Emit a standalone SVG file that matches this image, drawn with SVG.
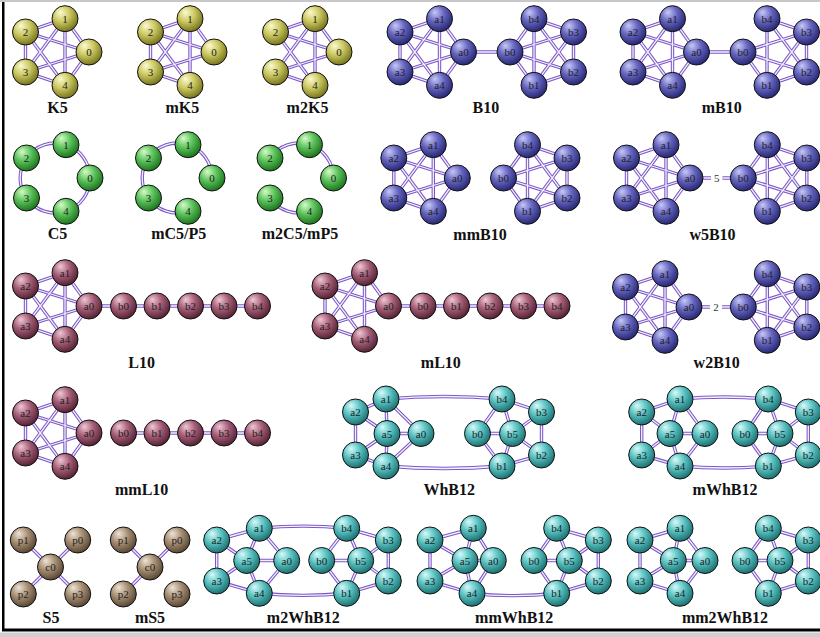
<svg xmlns="http://www.w3.org/2000/svg" xmlns:xlink="http://www.w3.org/1999/xlink" width="820" height="637" viewBox="0 0 820 637">
<defs>
<style>
.n circle{stroke:#111;stroke-width:1}
.n text{font-family:"Liberation Serif","Times New Roman",serif;font-size:11px;text-anchor:middle;fill:#222}
.y circle{fill:url(#gy)} .g circle{fill:url(#gg)} .b circle{fill:url(#gb)} .m circle{fill:url(#gm)} .c circle{fill:url(#gc)} .t circle{fill:url(#gt)}
.eo{fill:none;stroke:#7c58c6;stroke-width:3.4}
.ei{fill:none;stroke:#f4f0ff;stroke-width:1.3}
.lab{font-family:"Liberation Serif","Times New Roman",serif;font-weight:bold;font-size:16px;text-anchor:middle;fill:#111}
.el{font-family:"Liberation Serif","Times New Roman",serif;font-size:11px;text-anchor:middle;fill:#333}
</style>
<radialGradient id="gy" cx="0.4" cy="0.35" r="0.65" fx="0.32" fy="0.25"><stop offset="0" stop-color="#fbfbd0"/><stop offset="0.5" stop-color="#cbc862"/><stop offset="1" stop-color="#79761f"/></radialGradient>
<radialGradient id="gg" cx="0.4" cy="0.35" r="0.65" fx="0.32" fy="0.25"><stop offset="0" stop-color="#d6fbc8"/><stop offset="0.5" stop-color="#5cc25c"/><stop offset="1" stop-color="#1d761d"/></radialGradient>
<radialGradient id="gb" cx="0.4" cy="0.35" r="0.65" fx="0.32" fy="0.25"><stop offset="0" stop-color="#c8c8f8"/><stop offset="0.5" stop-color="#6565c0"/><stop offset="1" stop-color="#282874"/></radialGradient>
<radialGradient id="gm" cx="0.4" cy="0.35" r="0.65" fx="0.32" fy="0.25"><stop offset="0" stop-color="#f0c8d6"/><stop offset="0.5" stop-color="#a55f78"/><stop offset="1" stop-color="#572335"/></radialGradient>
<radialGradient id="gc" cx="0.4" cy="0.35" r="0.65" fx="0.32" fy="0.25"><stop offset="0" stop-color="#d8fafa"/><stop offset="0.5" stop-color="#5ac2c2"/><stop offset="1" stop-color="#1d7272"/></radialGradient>
<radialGradient id="gt" cx="0.4" cy="0.35" r="0.65" fx="0.32" fy="0.25"><stop offset="0" stop-color="#efe4d6"/><stop offset="0.5" stop-color="#a78f75"/><stop offset="1" stop-color="#5b4834"/></radialGradient>

<path id="E-K5" d="M89 52L65 18.7M89 52L25.5 32M89 52L25.5 72M89 52L65 85.3M65 18.7L25.5 32M65 18.7L25.5 72M65 18.7L65 85.3M25.5 32L25.5 72M25.5 32L65 85.3M25.5 72L65 85.3"/>
<path id="E-mK5" d="M214 52L190 18.7M214 52L150.5 32M214 52L150.5 72M190 18.7L150.5 32M190 18.7L150.5 72M190 18.7L190 85.3M150.5 32L150.5 72M150.5 32L190 85.3M150.5 72L190 85.3"/>
<path id="E-m2K5" d="M339 52L315 18.7M339 52L275.5 32M339 52L275.5 72M315 18.7L275.5 32M315 18.7L275.5 72M315 18.7L315 85.3M275.5 32L315 85.3M275.5 72L315 85.3"/>
<path id="E-B10" d="M463.5 52L439.5 18.7M463.5 52L400 32M463.5 52L400 72M463.5 52L439.5 85.3M439.5 18.7L400 32M439.5 18.7L400 72M439.5 18.7L439.5 85.3M400 32L400 72M400 32L439.5 85.3M400 72L439.5 85.3M510 52L534 18.7M510 52L573.5 32M510 52L573.5 72M510 52L534 85.3M534 18.7L573.5 32M534 18.7L573.5 72M534 18.7L534 85.3M573.5 32L573.5 72M573.5 32L534 85.3M573.5 72L534 85.3M463.5 52L510 52"/>
<path id="E-mB10" d="M696.5 52L672.5 18.7M696.5 52L633 32M696.5 52L633 72M696.5 52L672.5 85.3M672.5 18.7L633 32M672.5 18.7L633 72M672.5 18.7L672.5 85.3M633 32L633 72M633 32L672.5 85.3M633 72L672.5 85.3M743 52L806.5 32M743 52L806.5 72M743 52L767 85.3M767 18.7L806.5 32M767 18.7L806.5 72M767 18.7L767 85.3M806.5 32L806.5 72M806.5 32L767 85.3M806.5 72L767 85.3M696.5 52L743 52"/>
<path id="E-C5" d="M66 144.7A34.9 34.9 0 0 1 90 178A34.9 34.9 0 0 1 66 211.3A34.9 34.9 0 0 1 26.5 198A34.9 34.9 0 0 1 26.5 158A34.9 34.9 0 0 1 66 144.7"/>
<path id="E-mC5" d="M188 211.3A34.9 34.9 0 0 1 148.5 198A34.9 34.9 0 0 1 148.5 158A34.9 34.9 0 0 1 188 144.7A34.9 34.9 0 0 1 212 178"/>
<path id="E-m2C5" d="M270 158A34.9 34.9 0 0 1 309.5 144.7A34.9 34.9 0 0 1 333.5 178M309.5 211.3A34.9 34.9 0 0 1 270 198"/>
<path id="E-mmB10" d="M457.3 178L433.3 144.7M457.3 178L393.8 158M457.3 178L393.8 198M457.3 178L433.3 211.3M433.3 144.7L393.8 158M433.3 144.7L393.8 198M433.3 144.7L433.3 211.3M393.8 158L393.8 198M393.8 158L433.3 211.3M393.8 198L433.3 211.3M503.5 178L527.5 144.7M503.5 178L567 158M503.5 178L567 198M503.5 178L527.5 211.3M527.5 144.7L567 158M527.5 144.7L567 198M527.5 144.7L527.5 211.3M567 158L567 198M567 158L527.5 211.3M567 198L527.5 211.3"/>
<path id="E-w5B10" d="M690 178L666 144.7M690 178L626.5 158M690 178L626.5 198M690 178L666 211.3M666 144.7L626.5 158M666 144.7L626.5 198M666 144.7L666 211.3M626.5 158L626.5 198M626.5 158L666 211.3M626.5 198L666 211.3M743.3 178L767.3 144.7M743.3 178L806.8 158M743.3 178L806.8 198M743.3 178L767.3 211.3M767.3 144.7L806.8 158M767.3 144.7L806.8 198M767.3 144.7L767.3 211.3M806.8 158L806.8 198M806.8 158L767.3 211.3M806.8 198L767.3 211.3M690 178H711M722.5 178H743.3"/>
<path id="E-L10" d="M89 306L65 272.7M89 306L25.5 286M89 306L25.5 326M89 306L65 339.3M65 272.7L25.5 286M65 272.7L25.5 326M65 272.7L65 339.3M25.5 286L25.5 326M25.5 286L65 339.3M25.5 326L65 339.3M89 306H257.5"/>
<path id="E-mL10" d="M388.5 306L364.5 272.7M388.5 306L325 286M388.5 306L325 326M364.5 272.7L325 286M364.5 272.7L325 326M364.5 272.7L364.5 339.3M325 286L325 326M325 286L364.5 339.3M325 326L364.5 339.3M388.5 306H557"/>
<path id="E-w2B10" d="M689 307L665 273.7M689 307L625.5 287M689 307L625.5 327M689 307L665 340.3M665 273.7L625.5 287M665 273.7L625.5 327M665 273.7L665 340.3M625.5 287L625.5 327M625.5 287L665 340.3M625.5 327L665 340.3M743.3 307L767.3 273.7M743.3 307L806.8 287M743.3 307L806.8 327M743.3 307L767.3 340.3M767.3 273.7L806.8 287M767.3 273.7L806.8 327M767.3 273.7L767.3 340.3M806.8 287L806.8 327M806.8 287L767.3 340.3M806.8 327L767.3 340.3M689 307H710M722 307H743.3"/>
<path id="E-mmL10" d="M89 433L65 399.7M89 433L25.5 413M89 433L25.5 453M89 433L65 466.3M65 399.7L25.5 413M65 399.7L25.5 453M65 399.7L65 466.3M25.5 413L25.5 453M25.5 413L65 466.3M25.5 453L65 466.3M123.5 433H257.5"/>
<path id="E-WhB12" d="M387 433.5L421 433.5M387 433.5L386 399M387 433.5L355.5 412M387 433.5L355.5 455M387 433.5L386 466M421 433.5L386 399L355.5 412L355.5 455L386 466Z M512.5 433.5L477.5 433.5M512.5 433.5L502 399M512.5 433.5L541.5 412M512.5 433.5L541.5 455M512.5 433.5L502 466M477.5 433.5L502 399L541.5 412L541.5 455L502 466Z M386 399Q444 394 502 399M386 466Q444 471 502 466"/>
<path id="E-mWhB12" d="M670 433.5L705 433.5M670 433.5L680 399M670 433.5L641.7 412M670 433.5L641.7 455M670 433.5L680 466M705 433.5L680 399L641.7 412L641.7 455L680 466Z M780 433.5L745 433.5M780 433.5L768.3 399M780 433.5L808.3 412M780 433.5L808.3 455M780 433.5L768.3 466M745 433.5L768.3 399L808.3 412L808.3 455L768.3 466Z M680 399Q724 395 768.3 399M680 466Q724 470 768.3 466"/>
<path id="E-S5" d="M50.5 567L23.3 540M50.5 567L77.7 540M50.5 567L23.3 594M50.5 567L77.7 594"/>
<path id="E-mS5" d="M150 567L123.3 540M150 567L177 540M150 567L123.3 594"/>
<path id="E-m2WhB12" d="M246.7 560.5L286.7 560.5M246.7 560.5L259.3 528.3M246.7 560.5L216.7 540M246.7 560.5L216.7 581M246.7 560.5L259.3 593.3M286.7 560.5L259.3 528.3L216.7 540L216.7 581L259.3 593.3Z M360.7 560.5L321.7 560.5M360.7 560.5L346.7 528.3M360.7 560.5L388.3 540M360.7 560.5L388.3 581M360.7 560.5L346.7 593.3M321.7 560.5L346.7 528.3L388.3 540L388.3 581L346.7 593.3Z M259.3 528.3Q303 524 346.7 528.3M259.3 593.3Q303 597.5 346.7 593.3"/>
<path id="E-mmWhB12" d="M465 560.5L493.3 560.5M465 560.5L473.3 528.3M465 560.5L430 540M465 560.5L430 581M465 560.5L472 593.3M493.3 560.5L473.3 528.3L430 540L430 581L472 593.3Z M569.3 560.5L534 560.5M569.3 560.5L556.7 528.3M569.3 560.5L598.3 540M569.3 560.5L598.3 581M569.3 560.5L556.7 593.3M534 560.5L556.7 528.3L598.3 540L598.3 581L556.7 593.3Z M472 593.3Q514 598 556.7 593.3"/>
<path id="E-mm2WhB12" d="M673.3 560.5L705 560.5M673.3 560.5L680 528.3M673.3 560.5L640 540M673.3 560.5L640 581M673.3 560.5L680 593.3M705 560.5L680 528.3L640 540L640 581L680 593.3Z M780 560.5L745 560.5M780 560.5L768.3 528.3M780 560.5L808.3 540M780 560.5L808.3 581M780 560.5L768.3 593.3M745 560.5L768.3 528.3L808.3 540L808.3 581L768.3 593.3Z"/>
</defs>

<rect width="820" height="637" fill="#ffffff"/>
<g id="frame">
<rect x="0" y="0" width="820" height="2" fill="#c8c8c8"/>
<rect x="2" y="2" width="2.5" height="629" fill="#000"/>
<rect x="2" y="628.5" width="818" height="3" fill="#000"/>
<rect x="0" y="632.5" width="820" height="4.5" fill="#cfcfcf"/>
</g>

<g id="connectors">
<use xlink:href="#E-K5" class="eo"/><use xlink:href="#E-K5" class="ei"/>
<use xlink:href="#E-mK5" class="eo"/><use xlink:href="#E-mK5" class="ei"/>
<use xlink:href="#E-m2K5" class="eo"/><use xlink:href="#E-m2K5" class="ei"/>
<use xlink:href="#E-B10" class="eo"/><use xlink:href="#E-B10" class="ei"/>
<use xlink:href="#E-mB10" class="eo"/><use xlink:href="#E-mB10" class="ei"/>
<use xlink:href="#E-C5" class="eo"/><use xlink:href="#E-C5" class="ei"/>
<use xlink:href="#E-mC5" class="eo"/><use xlink:href="#E-mC5" class="ei"/>
<use xlink:href="#E-m2C5" class="eo"/><use xlink:href="#E-m2C5" class="ei"/>
<use xlink:href="#E-mmB10" class="eo"/><use xlink:href="#E-mmB10" class="ei"/>
<use xlink:href="#E-w5B10" class="eo"/><use xlink:href="#E-w5B10" class="ei"/>
<use xlink:href="#E-L10" class="eo"/><use xlink:href="#E-L10" class="ei"/>
<use xlink:href="#E-mL10" class="eo"/><use xlink:href="#E-mL10" class="ei"/>
<use xlink:href="#E-w2B10" class="eo"/><use xlink:href="#E-w2B10" class="ei"/>
<use xlink:href="#E-mmL10" class="eo"/><use xlink:href="#E-mmL10" class="ei"/>
<use xlink:href="#E-WhB12" class="eo"/><use xlink:href="#E-WhB12" class="ei"/>
<use xlink:href="#E-mWhB12" class="eo"/><use xlink:href="#E-mWhB12" class="ei"/>
<use xlink:href="#E-S5" class="eo"/><use xlink:href="#E-S5" class="ei"/>
<use xlink:href="#E-mS5" class="eo"/><use xlink:href="#E-mS5" class="ei"/>
<use xlink:href="#E-m2WhB12" class="eo"/><use xlink:href="#E-m2WhB12" class="ei"/>
<use xlink:href="#E-mmWhB12" class="eo"/><use xlink:href="#E-mmWhB12" class="ei"/>
<use xlink:href="#E-mm2WhB12" class="eo"/><use xlink:href="#E-mm2WhB12" class="ei"/>
<text class="el" x="716.7" y="182">5</text>
<text class="el" x="716" y="311">2</text>
</g>

<!-- K5 -->
<g id="K5-0" class="n y"><circle cx="89" cy="52" r="13"/><text x="89" y="56">0</text></g>
<g id="K5-1" class="n y"><circle cx="65" cy="18.7" r="13"/><text x="65" y="22.7">1</text></g>
<g id="K5-2" class="n y"><circle cx="25.5" cy="32" r="13"/><text x="25.5" y="36">2</text></g>
<g id="K5-3" class="n y"><circle cx="25.5" cy="72" r="13"/><text x="25.5" y="76">3</text></g>
<g id="K5-4" class="n y"><circle cx="65" cy="85.3" r="13"/><text x="65" y="89.3">4</text></g>
<!-- mK5 -->
<g id="mK5-0" class="n y"><circle cx="214" cy="52" r="13"/><text x="214" y="56">0</text></g>
<g id="mK5-1" class="n y"><circle cx="190" cy="18.7" r="13"/><text x="190" y="22.7">1</text></g>
<g id="mK5-2" class="n y"><circle cx="150.5" cy="32" r="13"/><text x="150.5" y="36">2</text></g>
<g id="mK5-3" class="n y"><circle cx="150.5" cy="72" r="13"/><text x="150.5" y="76">3</text></g>
<g id="mK5-4" class="n y"><circle cx="190" cy="85.3" r="13"/><text x="190" y="89.3">4</text></g>
<!-- m2K5 -->
<g id="m2K5-0" class="n y"><circle cx="339" cy="52" r="13"/><text x="339" y="56">0</text></g>
<g id="m2K5-1" class="n y"><circle cx="315" cy="18.7" r="13"/><text x="315" y="22.7">1</text></g>
<g id="m2K5-2" class="n y"><circle cx="275.5" cy="32" r="13"/><text x="275.5" y="36">2</text></g>
<g id="m2K5-3" class="n y"><circle cx="275.5" cy="72" r="13"/><text x="275.5" y="76">3</text></g>
<g id="m2K5-4" class="n y"><circle cx="315" cy="85.3" r="13"/><text x="315" y="89.3">4</text></g>
<!-- B10 -->
<g id="B10-a0" class="n b"><circle cx="463.5" cy="52" r="13"/><text x="463.5" y="56">a0</text></g>
<g id="B10-a1" class="n b"><circle cx="439.5" cy="18.7" r="13"/><text x="439.5" y="22.7">a1</text></g>
<g id="B10-a2" class="n b"><circle cx="400" cy="32" r="13"/><text x="400" y="36">a2</text></g>
<g id="B10-a3" class="n b"><circle cx="400" cy="72" r="13"/><text x="400" y="76">a3</text></g>
<g id="B10-a4" class="n b"><circle cx="439.5" cy="85.3" r="13"/><text x="439.5" y="89.3">a4</text></g>
<g id="B10-b0" class="n b"><circle cx="510" cy="52" r="13"/><text x="510" y="56">b0</text></g>
<g id="B10-b4" class="n b"><circle cx="534" cy="18.7" r="13"/><text x="534" y="22.7">b4</text></g>
<g id="B10-b3" class="n b"><circle cx="573.5" cy="32" r="13"/><text x="573.5" y="36">b3</text></g>
<g id="B10-b2" class="n b"><circle cx="573.5" cy="72" r="13"/><text x="573.5" y="76">b2</text></g>
<g id="B10-b1" class="n b"><circle cx="534" cy="85.3" r="13"/><text x="534" y="89.3">b1</text></g>
<!-- mB10 -->
<g id="mB10-a0" class="n b"><circle cx="696.5" cy="52" r="13"/><text x="696.5" y="56">a0</text></g>
<g id="mB10-a1" class="n b"><circle cx="672.5" cy="18.7" r="13"/><text x="672.5" y="22.7">a1</text></g>
<g id="mB10-a2" class="n b"><circle cx="633" cy="32" r="13"/><text x="633" y="36">a2</text></g>
<g id="mB10-a3" class="n b"><circle cx="633" cy="72" r="13"/><text x="633" y="76">a3</text></g>
<g id="mB10-a4" class="n b"><circle cx="672.5" cy="85.3" r="13"/><text x="672.5" y="89.3">a4</text></g>
<g id="mB10-b0" class="n b"><circle cx="743" cy="52" r="13"/><text x="743" y="56">b0</text></g>
<g id="mB10-b4" class="n b"><circle cx="767" cy="18.7" r="13"/><text x="767" y="22.7">b4</text></g>
<g id="mB10-b3" class="n b"><circle cx="806.5" cy="32" r="13"/><text x="806.5" y="36">b3</text></g>
<g id="mB10-b2" class="n b"><circle cx="806.5" cy="72" r="13"/><text x="806.5" y="76">b2</text></g>
<g id="mB10-b1" class="n b"><circle cx="767" cy="85.3" r="13"/><text x="767" y="89.3">b1</text></g>
<!-- C5 -->
<g id="C5-0" class="n g"><circle cx="90" cy="178" r="13"/><text x="90" y="182">0</text></g>
<g id="C5-1" class="n g"><circle cx="66" cy="144.7" r="13"/><text x="66" y="148.7">1</text></g>
<g id="C5-2" class="n g"><circle cx="26.5" cy="158" r="13"/><text x="26.5" y="162">2</text></g>
<g id="C5-3" class="n g"><circle cx="26.5" cy="198" r="13"/><text x="26.5" y="202">3</text></g>
<g id="C5-4" class="n g"><circle cx="66" cy="211.3" r="13"/><text x="66" y="215.3">4</text></g>
<!-- mC5/P5 -->
<g id="mC5-0" class="n g"><circle cx="212" cy="178" r="13"/><text x="212" y="182">0</text></g>
<g id="mC5-1" class="n g"><circle cx="188" cy="144.7" r="13"/><text x="188" y="148.7">1</text></g>
<g id="mC5-2" class="n g"><circle cx="148.5" cy="158" r="13"/><text x="148.5" y="162">2</text></g>
<g id="mC5-3" class="n g"><circle cx="148.5" cy="198" r="13"/><text x="148.5" y="202">3</text></g>
<g id="mC5-4" class="n g"><circle cx="188" cy="211.3" r="13"/><text x="188" y="215.3">4</text></g>
<!-- m2C5/mP5 -->
<g id="m2C5-0" class="n g"><circle cx="333.5" cy="178" r="13"/><text x="333.5" y="182">0</text></g>
<g id="m2C5-1" class="n g"><circle cx="309.5" cy="144.7" r="13"/><text x="309.5" y="148.7">1</text></g>
<g id="m2C5-2" class="n g"><circle cx="270" cy="158" r="13"/><text x="270" y="162">2</text></g>
<g id="m2C5-3" class="n g"><circle cx="270" cy="198" r="13"/><text x="270" y="202">3</text></g>
<g id="m2C5-4" class="n g"><circle cx="309.5" cy="211.3" r="13"/><text x="309.5" y="215.3">4</text></g>
<!-- mmB10 -->
<g id="mmB10-a0" class="n b"><circle cx="457.3" cy="178" r="13"/><text x="457.3" y="182">a0</text></g>
<g id="mmB10-a1" class="n b"><circle cx="433.3" cy="144.7" r="13"/><text x="433.3" y="148.7">a1</text></g>
<g id="mmB10-a2" class="n b"><circle cx="393.8" cy="158" r="13"/><text x="393.8" y="162">a2</text></g>
<g id="mmB10-a3" class="n b"><circle cx="393.8" cy="198" r="13"/><text x="393.8" y="202">a3</text></g>
<g id="mmB10-a4" class="n b"><circle cx="433.3" cy="211.3" r="13"/><text x="433.3" y="215.3">a4</text></g>
<g id="mmB10-b0" class="n b"><circle cx="503.5" cy="178" r="13"/><text x="503.5" y="182">b0</text></g>
<g id="mmB10-b4" class="n b"><circle cx="527.5" cy="144.7" r="13"/><text x="527.5" y="148.7">b4</text></g>
<g id="mmB10-b3" class="n b"><circle cx="567" cy="158" r="13"/><text x="567" y="162">b3</text></g>
<g id="mmB10-b2" class="n b"><circle cx="567" cy="198" r="13"/><text x="567" y="202">b2</text></g>
<g id="mmB10-b1" class="n b"><circle cx="527.5" cy="211.3" r="13"/><text x="527.5" y="215.3">b1</text></g>
<!-- w5B10 -->
<g id="w5B10-a0" class="n b"><circle cx="690" cy="178" r="13"/><text x="690" y="182">a0</text></g>
<g id="w5B10-a1" class="n b"><circle cx="666" cy="144.7" r="13"/><text x="666" y="148.7">a1</text></g>
<g id="w5B10-a2" class="n b"><circle cx="626.5" cy="158" r="13"/><text x="626.5" y="162">a2</text></g>
<g id="w5B10-a3" class="n b"><circle cx="626.5" cy="198" r="13"/><text x="626.5" y="202">a3</text></g>
<g id="w5B10-a4" class="n b"><circle cx="666" cy="211.3" r="13"/><text x="666" y="215.3">a4</text></g>
<g id="w5B10-b0" class="n b"><circle cx="743.3" cy="178" r="13"/><text x="743.3" y="182">b0</text></g>
<g id="w5B10-b4" class="n b"><circle cx="767.3" cy="144.7" r="13"/><text x="767.3" y="148.7">b4</text></g>
<g id="w5B10-b3" class="n b"><circle cx="806.8" cy="158" r="13"/><text x="806.8" y="162">b3</text></g>
<g id="w5B10-b2" class="n b"><circle cx="806.8" cy="198" r="13"/><text x="806.8" y="202">b2</text></g>
<g id="w5B10-b1" class="n b"><circle cx="767.3" cy="211.3" r="13"/><text x="767.3" y="215.3">b1</text></g>
<!-- L10 -->
<g id="L10-a0" class="n m"><circle cx="89" cy="306" r="13"/><text x="89" y="310">a0</text></g>
<g id="L10-a1" class="n m"><circle cx="65" cy="272.7" r="13"/><text x="65" y="276.7">a1</text></g>
<g id="L10-a2" class="n m"><circle cx="25.5" cy="286" r="13"/><text x="25.5" y="290">a2</text></g>
<g id="L10-a3" class="n m"><circle cx="25.5" cy="326" r="13"/><text x="25.5" y="330">a3</text></g>
<g id="L10-a4" class="n m"><circle cx="65" cy="339.3" r="13"/><text x="65" y="343.3">a4</text></g>
<g id="L10-b0" class="n m"><circle cx="123.5" cy="306" r="13"/><text x="123.5" y="310">b0</text></g>
<g id="L10-b1" class="n m"><circle cx="157" cy="306" r="13"/><text x="157" y="310">b1</text></g>
<g id="L10-b2" class="n m"><circle cx="190.5" cy="306" r="13"/><text x="190.5" y="310">b2</text></g>
<g id="L10-b3" class="n m"><circle cx="224" cy="306" r="13"/><text x="224" y="310">b3</text></g>
<g id="L10-b4" class="n m"><circle cx="257.5" cy="306" r="13"/><text x="257.5" y="310">b4</text></g>
<!-- mL10 -->
<g id="mL10-a0" class="n m"><circle cx="388.5" cy="306" r="13"/><text x="388.5" y="310">a0</text></g>
<g id="mL10-a1" class="n m"><circle cx="364.5" cy="272.7" r="13"/><text x="364.5" y="276.7">a1</text></g>
<g id="mL10-a2" class="n m"><circle cx="325" cy="286" r="13"/><text x="325" y="290">a2</text></g>
<g id="mL10-a3" class="n m"><circle cx="325" cy="326" r="13"/><text x="325" y="330">a3</text></g>
<g id="mL10-a4" class="n m"><circle cx="364.5" cy="339.3" r="13"/><text x="364.5" y="343.3">a4</text></g>
<g id="mL10-b0" class="n m"><circle cx="423" cy="306" r="13"/><text x="423" y="310">b0</text></g>
<g id="mL10-b1" class="n m"><circle cx="456.5" cy="306" r="13"/><text x="456.5" y="310">b1</text></g>
<g id="mL10-b2" class="n m"><circle cx="490" cy="306" r="13"/><text x="490" y="310">b2</text></g>
<g id="mL10-b3" class="n m"><circle cx="523.5" cy="306" r="13"/><text x="523.5" y="310">b3</text></g>
<g id="mL10-b4" class="n m"><circle cx="557" cy="306" r="13"/><text x="557" y="310">b4</text></g>
<!-- w2B10 -->
<g id="w2B10-a0" class="n b"><circle cx="689" cy="307" r="13"/><text x="689" y="311">a0</text></g>
<g id="w2B10-a1" class="n b"><circle cx="665" cy="273.7" r="13"/><text x="665" y="277.7">a1</text></g>
<g id="w2B10-a2" class="n b"><circle cx="625.5" cy="287" r="13"/><text x="625.5" y="291">a2</text></g>
<g id="w2B10-a3" class="n b"><circle cx="625.5" cy="327" r="13"/><text x="625.5" y="331">a3</text></g>
<g id="w2B10-a4" class="n b"><circle cx="665" cy="340.3" r="13"/><text x="665" y="344.3">a4</text></g>
<g id="w2B10-b0" class="n b"><circle cx="743.3" cy="307" r="13"/><text x="743.3" y="311">b0</text></g>
<g id="w2B10-b4" class="n b"><circle cx="767.3" cy="273.7" r="13"/><text x="767.3" y="277.7">b4</text></g>
<g id="w2B10-b3" class="n b"><circle cx="806.8" cy="287" r="13"/><text x="806.8" y="291">b3</text></g>
<g id="w2B10-b2" class="n b"><circle cx="806.8" cy="327" r="13"/><text x="806.8" y="331">b2</text></g>
<g id="w2B10-b1" class="n b"><circle cx="767.3" cy="340.3" r="13"/><text x="767.3" y="344.3">b1</text></g>
<!-- mmL10 -->
<g id="mmL10-a0" class="n m"><circle cx="89" cy="433" r="13"/><text x="89" y="437">a0</text></g>
<g id="mmL10-a1" class="n m"><circle cx="65" cy="399.7" r="13"/><text x="65" y="403.7">a1</text></g>
<g id="mmL10-a2" class="n m"><circle cx="25.5" cy="413" r="13"/><text x="25.5" y="417">a2</text></g>
<g id="mmL10-a3" class="n m"><circle cx="25.5" cy="453" r="13"/><text x="25.5" y="457">a3</text></g>
<g id="mmL10-a4" class="n m"><circle cx="65" cy="466.3" r="13"/><text x="65" y="470.3">a4</text></g>
<g id="mmL10-b0" class="n m"><circle cx="123.5" cy="433" r="13"/><text x="123.5" y="437">b0</text></g>
<g id="mmL10-b1" class="n m"><circle cx="157" cy="433" r="13"/><text x="157" y="437">b1</text></g>
<g id="mmL10-b2" class="n m"><circle cx="190.5" cy="433" r="13"/><text x="190.5" y="437">b2</text></g>
<g id="mmL10-b3" class="n m"><circle cx="224" cy="433" r="13"/><text x="224" y="437">b3</text></g>
<g id="mmL10-b4" class="n m"><circle cx="257.5" cy="433" r="13"/><text x="257.5" y="437">b4</text></g>
<!-- WhB12 -->
<g id="WhB12-a0" class="n c"><circle cx="421" cy="433.5" r="13"/><text x="421" y="437.5">a0</text></g>
<g id="WhB12-a1" class="n c"><circle cx="386" cy="399" r="13"/><text x="386" y="403">a1</text></g>
<g id="WhB12-a2" class="n c"><circle cx="355.5" cy="412" r="13"/><text x="355.5" y="416">a2</text></g>
<g id="WhB12-a3" class="n c"><circle cx="355.5" cy="455" r="13"/><text x="355.5" y="459">a3</text></g>
<g id="WhB12-a4" class="n c"><circle cx="386" cy="466" r="13"/><text x="386" y="470">a4</text></g>
<g id="WhB12-a5" class="n c"><circle cx="387" cy="433.5" r="13"/><text x="387" y="437.5">a5</text></g>
<g id="WhB12-b0" class="n c"><circle cx="477.5" cy="433.5" r="13"/><text x="477.5" y="437.5">b0</text></g>
<g id="WhB12-b4" class="n c"><circle cx="502" cy="399" r="13"/><text x="502" y="403">b4</text></g>
<g id="WhB12-b3" class="n c"><circle cx="541.5" cy="412" r="13"/><text x="541.5" y="416">b3</text></g>
<g id="WhB12-b2" class="n c"><circle cx="541.5" cy="455" r="13"/><text x="541.5" y="459">b2</text></g>
<g id="WhB12-b1" class="n c"><circle cx="502" cy="466" r="13"/><text x="502" y="470">b1</text></g>
<g id="WhB12-b5" class="n c"><circle cx="512.5" cy="433.5" r="13"/><text x="512.5" y="437.5">b5</text></g>
<!-- mWhB12 -->
<g id="mWhB12-a0" class="n c"><circle cx="705" cy="433.5" r="13"/><text x="705" y="437.5">a0</text></g>
<g id="mWhB12-a1" class="n c"><circle cx="680" cy="399" r="13"/><text x="680" y="403">a1</text></g>
<g id="mWhB12-a2" class="n c"><circle cx="641.7" cy="412" r="13"/><text x="641.7" y="416">a2</text></g>
<g id="mWhB12-a3" class="n c"><circle cx="641.7" cy="455" r="13"/><text x="641.7" y="459">a3</text></g>
<g id="mWhB12-a4" class="n c"><circle cx="680" cy="466" r="13"/><text x="680" y="470">a4</text></g>
<g id="mWhB12-a5" class="n c"><circle cx="670" cy="433.5" r="13"/><text x="670" y="437.5">a5</text></g>
<g id="mWhB12-b0" class="n c"><circle cx="745" cy="433.5" r="13"/><text x="745" y="437.5">b0</text></g>
<g id="mWhB12-b4" class="n c"><circle cx="768.3" cy="399" r="13"/><text x="768.3" y="403">b4</text></g>
<g id="mWhB12-b3" class="n c"><circle cx="808.3" cy="412" r="13"/><text x="808.3" y="416">b3</text></g>
<g id="mWhB12-b2" class="n c"><circle cx="808.3" cy="455" r="13"/><text x="808.3" y="459">b2</text></g>
<g id="mWhB12-b1" class="n c"><circle cx="768.3" cy="466" r="13"/><text x="768.3" y="470">b1</text></g>
<g id="mWhB12-b5" class="n c"><circle cx="780" cy="433.5" r="13"/><text x="780" y="437.5">b5</text></g>
<!-- S5 -->
<g id="S5-c0" class="n t"><circle cx="50.5" cy="567" r="13"/><text x="50.5" y="571">c0</text></g>
<g id="S5-p0" class="n t"><circle cx="77.7" cy="540" r="13"/><text x="77.7" y="544">p0</text></g>
<g id="S5-p1" class="n t"><circle cx="23.3" cy="540" r="13"/><text x="23.3" y="544">p1</text></g>
<g id="S5-p2" class="n t"><circle cx="23.3" cy="594" r="13"/><text x="23.3" y="598">p2</text></g>
<g id="S5-p3" class="n t"><circle cx="77.7" cy="594" r="13"/><text x="77.7" y="598">p3</text></g>
<!-- mS5 -->
<g id="mS5-c0" class="n t"><circle cx="150" cy="567" r="13"/><text x="150" y="571">c0</text></g>
<g id="mS5-p0" class="n t"><circle cx="177" cy="540" r="13"/><text x="177" y="544">p0</text></g>
<g id="mS5-p1" class="n t"><circle cx="123.3" cy="540" r="13"/><text x="123.3" y="544">p1</text></g>
<g id="mS5-p2" class="n t"><circle cx="123.3" cy="594" r="13"/><text x="123.3" y="598">p2</text></g>
<g id="mS5-p3" class="n t"><circle cx="177" cy="594" r="13"/><text x="177" y="598">p3</text></g>
<!-- m2WhB12 -->
<g id="m2WhB12-a0" class="n c"><circle cx="286.7" cy="560.5" r="13"/><text x="286.7" y="564.5">a0</text></g>
<g id="m2WhB12-a1" class="n c"><circle cx="259.3" cy="528.3" r="13"/><text x="259.3" y="532.3">a1</text></g>
<g id="m2WhB12-a2" class="n c"><circle cx="216.7" cy="540" r="13"/><text x="216.7" y="544">a2</text></g>
<g id="m2WhB12-a3" class="n c"><circle cx="216.7" cy="581" r="13"/><text x="216.7" y="585">a3</text></g>
<g id="m2WhB12-a4" class="n c"><circle cx="259.3" cy="593.3" r="13"/><text x="259.3" y="597.3">a4</text></g>
<g id="m2WhB12-a5" class="n c"><circle cx="246.7" cy="560.5" r="13"/><text x="246.7" y="564.5">a5</text></g>
<g id="m2WhB12-b0" class="n c"><circle cx="321.7" cy="560.5" r="13"/><text x="321.7" y="564.5">b0</text></g>
<g id="m2WhB12-b4" class="n c"><circle cx="346.7" cy="528.3" r="13"/><text x="346.7" y="532.3">b4</text></g>
<g id="m2WhB12-b3" class="n c"><circle cx="388.3" cy="540" r="13"/><text x="388.3" y="544">b3</text></g>
<g id="m2WhB12-b2" class="n c"><circle cx="388.3" cy="581" r="13"/><text x="388.3" y="585">b2</text></g>
<g id="m2WhB12-b1" class="n c"><circle cx="346.7" cy="593.3" r="13"/><text x="346.7" y="597.3">b1</text></g>
<g id="m2WhB12-b5" class="n c"><circle cx="360.7" cy="560.5" r="13"/><text x="360.7" y="564.5">b5</text></g>
<!-- mmWhB12 -->
<g id="mmWhB12-a0" class="n c"><circle cx="493.3" cy="560.5" r="13"/><text x="493.3" y="564.5">a0</text></g>
<g id="mmWhB12-a1" class="n c"><circle cx="473.3" cy="528.3" r="13"/><text x="473.3" y="532.3">a1</text></g>
<g id="mmWhB12-a2" class="n c"><circle cx="430" cy="540" r="13"/><text x="430" y="544">a2</text></g>
<g id="mmWhB12-a3" class="n c"><circle cx="430" cy="581" r="13"/><text x="430" y="585">a3</text></g>
<g id="mmWhB12-a4" class="n c"><circle cx="472" cy="593.3" r="13"/><text x="472" y="597.3">a4</text></g>
<g id="mmWhB12-a5" class="n c"><circle cx="465" cy="560.5" r="13"/><text x="465" y="564.5">a5</text></g>
<g id="mmWhB12-b0" class="n c"><circle cx="534" cy="560.5" r="13"/><text x="534" y="564.5">b0</text></g>
<g id="mmWhB12-b4" class="n c"><circle cx="556.7" cy="528.3" r="13"/><text x="556.7" y="532.3">b4</text></g>
<g id="mmWhB12-b3" class="n c"><circle cx="598.3" cy="540" r="13"/><text x="598.3" y="544">b3</text></g>
<g id="mmWhB12-b2" class="n c"><circle cx="598.3" cy="581" r="13"/><text x="598.3" y="585">b2</text></g>
<g id="mmWhB12-b1" class="n c"><circle cx="556.7" cy="593.3" r="13"/><text x="556.7" y="597.3">b1</text></g>
<g id="mmWhB12-b5" class="n c"><circle cx="569.3" cy="560.5" r="13"/><text x="569.3" y="564.5">b5</text></g>
<!-- mm2WhB12 -->
<g id="mm2WhB12-a0" class="n c"><circle cx="705" cy="560.5" r="13"/><text x="705" y="564.5">a0</text></g>
<g id="mm2WhB12-a1" class="n c"><circle cx="680" cy="528.3" r="13"/><text x="680" y="532.3">a1</text></g>
<g id="mm2WhB12-a2" class="n c"><circle cx="640" cy="540" r="13"/><text x="640" y="544">a2</text></g>
<g id="mm2WhB12-a3" class="n c"><circle cx="640" cy="581" r="13"/><text x="640" y="585">a3</text></g>
<g id="mm2WhB12-a4" class="n c"><circle cx="680" cy="593.3" r="13"/><text x="680" y="597.3">a4</text></g>
<g id="mm2WhB12-a5" class="n c"><circle cx="673.3" cy="560.5" r="13"/><text x="673.3" y="564.5">a5</text></g>
<g id="mm2WhB12-b0" class="n c"><circle cx="745" cy="560.5" r="13"/><text x="745" y="564.5">b0</text></g>
<g id="mm2WhB12-b4" class="n c"><circle cx="768.3" cy="528.3" r="13"/><text x="768.3" y="532.3">b4</text></g>
<g id="mm2WhB12-b3" class="n c"><circle cx="808.3" cy="540" r="13"/><text x="808.3" y="544">b3</text></g>
<g id="mm2WhB12-b2" class="n c"><circle cx="808.3" cy="581" r="13"/><text x="808.3" y="585">b2</text></g>
<g id="mm2WhB12-b1" class="n c"><circle cx="768.3" cy="593.3" r="13"/><text x="768.3" y="597.3">b1</text></g>
<g id="mm2WhB12-b5" class="n c"><circle cx="780" cy="560.5" r="13"/><text x="780" y="564.5">b5</text></g>

<g id="labels">
<text class="lab" x="57.5" y="113">K5</text>
<text class="lab" x="182.3" y="113">mK5</text>
<text class="lab" x="307.5" y="113">m2K5</text>
<text class="lab" x="485.8" y="113">B10</text>
<text class="lab" x="721.7" y="113">mB10</text>
<text class="lab" x="57.5" y="239">C5</text>
<text class="lab" x="178.8" y="239">mC5/P5</text>
<text class="lab" x="300" y="239">m2C5/mP5</text>
<text class="lab" x="480" y="239.5">mmB10</text>
<text class="lab" x="712.5" y="239.5">w5B10</text>
<text class="lab" x="141.7" y="368">L10</text>
<text class="lab" x="440.8" y="368">mL10</text>
<text class="lab" x="716.7" y="368">w2B10</text>
<text class="lab" x="141.7" y="494.5">mmL10</text>
<text class="lab" x="449.2" y="494.5">WhB12</text>
<text class="lab" x="725" y="494.5">mWhB12</text>
<text class="lab" x="51" y="622.5">S5</text>
<text class="lab" x="150" y="622.5">mS5</text>
<text class="lab" x="303.3" y="622.5">m2WhB12</text>
<text class="lab" x="514.2" y="622.5">mmWhB12</text>
<text class="lab" x="725" y="622.5">mm2WhB12</text>
</g>
</svg>
